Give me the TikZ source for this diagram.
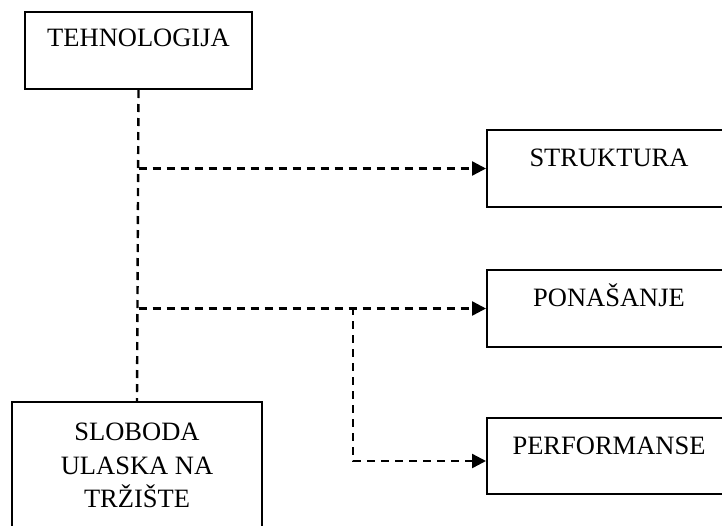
\documentclass[tikz,border=0pt]{standalone}
\usepackage{fontspec}
\setmainfont{Liberation Serif}
\usepackage{tikz}
\usetikzlibrary{arrows.meta, positioning, calc}

\begin{document}
\begin{tikzpicture}[
    x=1pt, y=-1pt,
    box/.style={rectangle, draw, line width=2pt, inner xsep=0pt, inner ysep=0pt, font=\fontsize{26.5}{33.5}\selectfont},
    sidebox/.style={box, anchor=north west, minimum width=244pt, text height=36.5pt, text depth=40.5pt},
    arrow/.style={-{Triangle[length=14pt, width=14pt]}, line width=2.4pt, dash pattern=on 8pt off 6pt},
    link/.style={line width=2.4pt, dash pattern=on 8pt off 6pt}
]
\useasboundingbox (0,0) rectangle (722,525);
\clip (0,0) rectangle (722,525);

% Left column
\node[box, anchor=north west, minimum width=227pt, text height=34.5pt, text depth=42.5pt] (tehno) at (24,11) {TEHNOLOGIJA};
\node[box, anchor=north, minimum width=250pt, inner ysep=21pt, align=center] (sloboda) at (137,401) {SLOBODA\\ULASKA NA\\TRŽIŠTE};

% Right column
\node[sidebox] (struktura) at (486,129) {STRUKTURA};
\node[sidebox] (ponasanje) at (486,269) {PONAŠANJE};
\node[sidebox, text depth=39.5pt] (performanse) at (486,417) {PERFORMANSE};

% Branch point on the middle arrow
\coordinate (split) at (353,307);

% Connections
\draw[link] (tehno.south) -- (sloboda.north);
\draw[arrow] (tehno.south |- struktura.west) -- (struktura.west);
\draw[arrow] (tehno.south |- ponasanje.west) -- (ponasanje.west);
\draw[arrow] (split) |- ([yshift=-5pt]performanse.west);

\end{tikzpicture}
\end{document}
